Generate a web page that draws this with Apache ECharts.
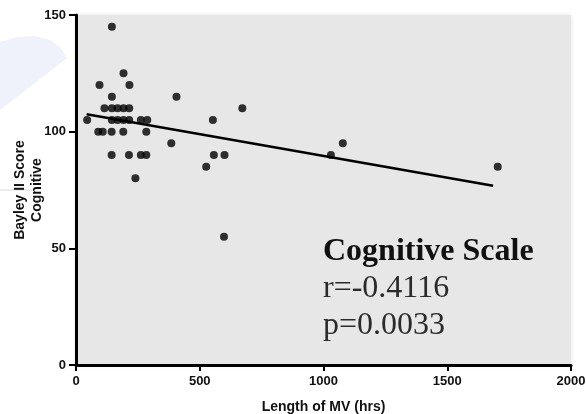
<!DOCTYPE html>
<html>
<head>
<meta charset="utf-8">
<script src="https://cdn.jsdelivr.net/npm/echarts@6/dist/echarts.min.js"></script>
<style>
  html, body { margin: 0; padding: 0; background: #ffffff; }
  #chart { width: 586px; height: 414px; }
</style>
</head>
<body>
<div id="chart"></div>
<script>
// Length of mechanical ventilation (hours) for each infant
const mvHours = [
  145,
  192,
  95, 216,
  145, 406,
  115, 145, 168, 192, 215, 672,
  45, 145, 168, 192, 215, 262, 288, 553,
  90, 108, 144, 191, 284,
  385, 1078,
  144, 214, 262, 284, 557, 600, 1030,
  526, 1704,
  240,
  598
];
// Bayley II cognitive score for the same infants
const bayleyScores = [
  145,
  125,
  120, 120,
  115, 115,
  110, 110, 110, 110, 110, 110,
  105, 105, 105, 105, 105, 105, 105, 105,
  100, 100, 100, 100, 100,
  95, 95,
  90, 90, 90, 90, 90, 90, 90,
  85, 85,
  80,
  55
];
// End points of the fitted regression line
const fitX = [43, 1685];
const fitY = [107.5, 76.8];

const panelTitle = 'Cognitive Scale';
const statR = 'r=-0.4116';
const statP = 'p=0.0033';

const points = mvHours.map((h, i) => [h, bayleyScores[i]]);
const fitLine = fitX.map((x, i) => [x, fitY[i]]);

const sans = '"Liberation Sans", Arial, sans-serif';
const serif = '"Liberation Serif", "Times New Roman", serif';

const chart = echarts.init(document.getElementById('chart'), null, { renderer: 'canvas' });

const tickLabel = {
  color: '#111',
  fontFamily: sans,
  fontWeight: 'bold',
  fontSize: 13,
  formatter: v => String(v)
};

chart.setOption({
  animation: false,
  backgroundColor: '#ffffff',
  grid: {
    left: 76, right: 15, top: 15, bottom: 49,
    outerBoundsMode: 'none',
    show: true,
    backgroundColor: '#e7e7e7',
    borderWidth: 0,
    shadowBlur: 4,
    shadowColor: 'rgba(0,0,0,0.12)'
  },
  xAxis: {
    type: 'value',
    min: 0, max: 2000, interval: 500,
    name: 'Length of MV (hrs)',
    nameLocation: 'middle',
    nameGap: 35,
    nameMoveOverlap: false,
    nameTextStyle: { color: '#111', fontFamily: sans, fontWeight: 'bold', fontSize: 14 },
    axisLine: { show: true, onZero: false, lineStyle: { color: '#000', width: 3 } },
    axisTick: { show: true, length: 6, lineStyle: { color: '#000', width: 2 } },
    axisLabel: Object.assign({ margin: 10 }, tickLabel),
    splitLine: { show: false }
  },
  yAxis: {
    type: 'value',
    min: 0, max: 150, interval: 50,
    name: 'Bayley II Score\nCognitive',
    nameLocation: 'middle',
    nameRotate: 90,
    nameGap: 30,
    nameMoveOverlap: false,
    nameTextStyle: { color: '#111', fontFamily: sans, fontWeight: 'bold', fontSize: 14, lineHeight: 17 },
    axisLine: { show: true, onZero: false, lineStyle: { color: '#000', width: 3 } },
    axisTick: { show: true, length: 7, lineStyle: { color: '#000', width: 2 } },
    axisLabel: Object.assign({ margin: 10 }, tickLabel),
    splitLine: { show: false }
  },
  graphic: [
    // faint pale-blue shape at the left edge of the page
    {
      type: 'polygon',
      silent: true,
      z: -10,
      shape: { points: [[0, 42], [17, 37], [35, 36], [50, 40], [60, 47], [67, 58], [0, 110]] },
      style: { fill: '#f0f2fb' }
    },
    {
      type: 'line',
      silent: true,
      z: -10,
      shape: { x1: 0, y1: 190, x2: 33, y2: 190 },
      style: { stroke: '#dadada', lineWidth: 1 }
    },
    {
      type: 'text',
      z: 100,
      style: {
        x: 323, y: 252,
        text: panelTitle,
        font: 'bold 32px ' + serif,
        fill: '#111',
        verticalAlign: 'middle',
        align: 'left'
      }
    },
    {
      type: 'text',
      z: 100,
      style: {
        x: 323, y: 289,
        text: statR,
        font: '32px ' + serif,
        fill: '#2a2a2a',
        verticalAlign: 'middle',
        align: 'left'
      }
    },
    {
      type: 'text',
      z: 100,
      style: {
        x: 323, y: 326,
        text: statP,
        font: '32px ' + serif,
        fill: '#2a2a2a',
        verticalAlign: 'middle',
        align: 'left'
      }
    }
  ],
  series: [
    {
      type: 'line',
      data: fitLine,
      symbol: 'none',
      lineStyle: { color: '#000', width: 2.5 },
      z: 3
    },
    {
      type: 'scatter',
      data: points,
      symbol: 'circle',
      symbolSize: 8,
      itemStyle: { color: '#000' },
      z: 4
    }
  ]
});
</script>
</body>
</html>
